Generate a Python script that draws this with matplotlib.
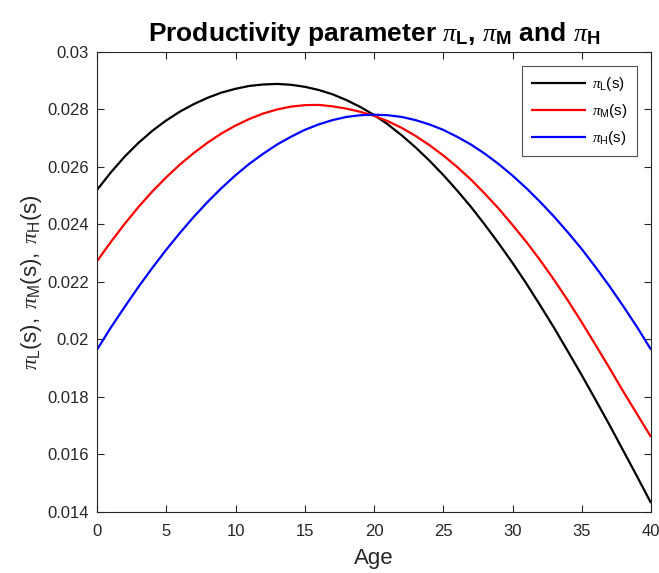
import numpy as np
import matplotlib
matplotlib.use("Agg")
import matplotlib.pyplot as plt
from matplotlib.ticker import FuncFormatter

# values, one per year of age
age = list(range(0, 41))
pi_L = [0.02520, 0.02581, 0.02636, 0.02684, 0.02726, 0.02762, 0.02793,
        0.02819, 0.02841, 0.02859, 0.02872, 0.02882, 0.02887, 0.02889,
        0.02886, 0.02879, 0.02868, 0.02853, 0.02833, 0.02809, 0.02781,
        0.02748, 0.02710, 0.02668, 0.02622, 0.02572, 0.02518, 0.02461,
        0.02399, 0.02334, 0.02266, 0.02194, 0.02118, 0.02040, 0.01958,
        0.01875, 0.01789, 0.01702, 0.01612, 0.01522, 0.01430]
pi_M = [0.02272, 0.02339, 0.02402, 0.02461, 0.02515, 0.02564, 0.02609,
        0.02649, 0.02685, 0.02717, 0.02744, 0.02767, 0.02786, 0.02800,
        0.02810, 0.02815, 0.02816, 0.02811, 0.02803, 0.02792, 0.02778,
        0.02759, 0.02736, 0.02708, 0.02676, 0.02640, 0.02600, 0.02556,
        0.02507, 0.02455, 0.02398, 0.02339, 0.02275, 0.02207, 0.02135,
        0.02059, 0.01980, 0.01900, 0.01818, 0.01739, 0.01660]
pi_H = [0.01964, 0.02041, 0.02113, 0.02183, 0.02249, 0.02312, 0.02371,
        0.02427, 0.02479, 0.02527, 0.02571, 0.02611, 0.02646, 0.02678,
        0.02705, 0.02729, 0.02748, 0.02763, 0.02774, 0.02780, 0.02782,
        0.02780, 0.02774, 0.02763, 0.02748, 0.02729, 0.02705, 0.02678,
        0.02646, 0.02610, 0.02570, 0.02526, 0.02478, 0.02427, 0.02372,
        0.02314, 0.02251, 0.02185, 0.02115, 0.02042, 0.01964]

x_ticks = np.arange(0, 41, 5)
y_ticks = np.arange(0.014, 0.0301, 0.002)

plt.rcParams['font.family'] = ['Liberation Sans', 'DejaVu Sans']
plt.rcParams['mathtext.fontset'] = 'custom'
plt.rcParams['mathtext.rm'] = 'Liberation Sans'
plt.rcParams['mathtext.it'] = 'Liberation Serif:italic'
plt.rcParams['mathtext.bf'] = 'Liberation Sans:bold'

axcol = '#262626'

fig = plt.figure(figsize=(6.59, 5.73), dpi=100)
ax = fig.add_axes([0.1472, 0.1070, 0.8407, 0.8022])

line_kw = dict(lw=1.6, solid_joinstyle='round', solid_capstyle='butt')
ax.plot(age, pi_L, color='black', label=r'$\pi_{\mathrm{L}}\mathrm{(s)}$', **line_kw)
ax.plot(age, pi_M, color='red', label=r'$\pi_{\mathrm{M}}\mathrm{(s)}$', **line_kw)
ax.plot(age, pi_H, color='blue', label=r'$\pi_{\mathrm{H}}\mathrm{(s)}$', **line_kw)

ax.set_xlim(0, 40)
ax.set_ylim(0.014, 0.03)
ax.set_xticks(x_ticks)
ax.set_yticks(y_ticks)
ax.yaxis.set_major_formatter(FuncFormatter(lambda v, p: f'{round(v, 3):g}'))

ax.tick_params(direction='in', top=True, right=True, length=5, width=0.8,
               colors=axcol, labelsize=12)
ax.tick_params(axis='x', pad=9)
ax.tick_params(axis='y', pad=6)
for s in ax.spines.values():
    s.set_color(axcol)
    s.set_linewidth(0.8)

ax.set_title(r'Productivity parameter $\pi_{\mathbf{L}}$, $\pi_{\mathbf{M}}$ and $\pi_{\mathbf{H}}$',
             fontsize=19, fontweight='bold', pad=8)
ax.set_xlabel('Age', fontsize=16, color=axcol, labelpad=6)
ax.set_ylabel(r'$\pi_{\mathrm{L}}\mathrm{(s)},\ \pi_{\mathrm{M}}\mathrm{(s)},\ \pi_{\mathrm{H}}\mathrm{(s)}$',
              fontsize=16, color=axcol, labelpad=2)

leg = ax.legend(loc='upper right', fontsize=11, frameon=True, fancybox=False,
                edgecolor=axcol, handlelength=3.6, handletextpad=0.4,
                borderaxespad=0.9, labelspacing=0.6, borderpad=0.6)
leg.get_frame().set_linewidth(0.8)

fig.savefig('out.png', dpi=100)
